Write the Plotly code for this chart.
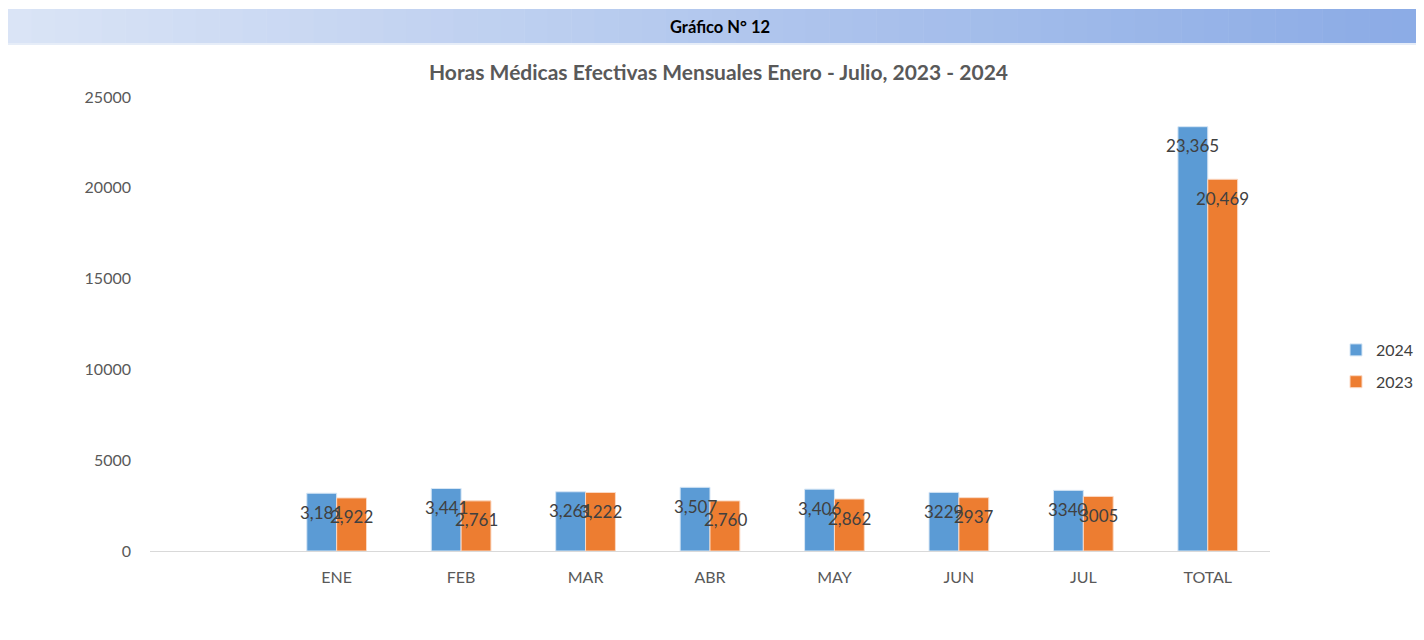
import plotly.graph_objects as go

categories = ["ENE", "FEB", "MAR", "ABR", "MAY", "JUN", "JUL", "TOTAL"]
values_2024 = [3181, 3441, 3261, 3507, 3406, 3229, 3340, 23365]
values_2023 = [2922, 2761, 3222, 2760, 2862, 2937, 3005, 20469]
labels_2024 = ["3,181", "3,441", "3,261", "3,507", "3,406", "3229", "3340", "23,365"]
labels_2023 = ["2,922", "2,761", "3,222", "2,760", "2,862", "2937", "3005", "20,469"]
y_ticks = [0, 5000, 10000, 15000, 20000, 25000]

# page body has an 8px margin on every side; work in reference pixels and convert
OFF = 8
W, H = 1424 - 2 * OFF, 640 - 2 * OFF
L = 150 - OFF
T = 97 - OFF
B = H - (551 - OFF)
R = W - (1270 - OFF)
PW, PH = W - L - R, H - T - B

def px_x(p):
    return (p - OFF - L) / PW

def px_y(p):
    return (H - B - (p - OFF)) / PH

FONT = "Lato, 'Open Sans', sans-serif"
BLUE = "#5b9bd5"
ORANGE = "#ed7d31"

fig = go.Figure()
fig.add_trace(go.Bar(name="2024", x=categories, y=values_2024,
                     marker=dict(color=BLUE, line=dict(color="#d6e6f5", width=1)),
                     legendgroup="a"))
fig.add_trace(go.Bar(name="2023", x=categories, y=values_2023,
                     marker=dict(color=ORANGE, line=dict(color="#fbd9c4", width=1)),
                     legendgroup="b"))

annotations = []
for c, v, t in zip(categories, values_2024, labels_2024):
    annotations.append(dict(x=c, y=v, xref="x", yref="y", text=t, showarrow=False,
                            xshift=-15, yshift=-19, yanchor="middle",
                            font=dict(size=17, color="#404040", family=FONT)))
for c, v, t in zip(categories, values_2023, labels_2023):
    annotations.append(dict(x=c, y=v, xref="x", yref="y", text=t, showarrow=False,
                            xshift=15, yshift=-19, yanchor="middle",
                            font=dict(size=17, color="#404040", family=FONT)))

# header text
annotations.append(dict(x=px_x(720), y=px_y(27), xref="paper", yref="paper",
                        text="<b>Gráfico N° 12</b>", showarrow=False,
                        xanchor="center", yanchor="middle",
                        font=dict(size=16.5, color="#000000", family=FONT)))
# chart title
annotations.append(dict(x=px_x(718), y=px_y(72), xref="paper", yref="paper",
                        text="<b>Horas Médicas Efectivas Mensuales Enero - Julio, 2023 - 2024</b>",
                        showarrow=False, xanchor="center", yanchor="middle",
                        font=dict(size=21, color="#595959", family=FONT)))

# gradient header band
shapes = []
n = 60
x0, x1 = OFF, 1424 - OFF
c0 = (218, 228, 246)
c1 = (140, 172, 230)
for i in range(n):
    a = x0 + (x1 - x0) * i / n
    b = x0 + (x1 - x0) * (i + 1) / n
    f = i / (n - 1)
    col = "rgb(%d,%d,%d)" % tuple(int(c0[k] + (c1[k] - c0[k]) * f) for k in range(3))
    shapes.append(dict(type="rect", xref="paper", yref="paper",
                       x0=px_x(a), x1=px_x(b) + 0.0005, y0=px_y(43), y1=px_y(9),
                       fillcolor=col, line=dict(width=0), layer="below"))
shapes.append(dict(type="line", xref="paper", yref="paper",
                   x0=px_x(OFF), x1=px_x(1424 - OFF), y0=px_y(44), y1=px_y(44),
                   line=dict(color="#e6edf8", width=2)))

fig.update_layout(
    width=W, height=H,
    margin=dict(l=L, r=R, t=T, b=B, autoexpand=False),
    paper_bgcolor="white", plot_bgcolor="white",
    barmode="group", bargap=0.52, bargroupgap=0,
    font=dict(family=FONT, size=16, color="#595959"),
    xaxis=dict(type="category", categoryorder="array",
               categoryarray=[" "] + categories, range=[-0.5, 8.5],
               showgrid=False, showline=True, linecolor="#d9d9d9", linewidth=1,
               ticks="", ticklabelstandoff=12, tickfont=dict(size=16, color="#595959"),
               fixedrange=True),
    yaxis=dict(range=[0, 25000], tickvals=y_ticks, ticktext=[str(v) for v in y_ticks],
               showgrid=False, zeroline=False, showline=False, ticks="",
               ticklabelstandoff=18, tickfont=dict(size=16, color="#595959")),
    legend=dict(x=px_x(1336), y=px_y(366), xanchor="left", yanchor="middle",
                font=dict(size=16, color="#404040", family=FONT),
                traceorder="grouped", tracegroupgap=8, itemwidth=30,
                bgcolor="rgba(0,0,0,0)"),
    annotations=annotations,
    shapes=shapes,
    showlegend=True,
)

fig.write_html("out.html")
